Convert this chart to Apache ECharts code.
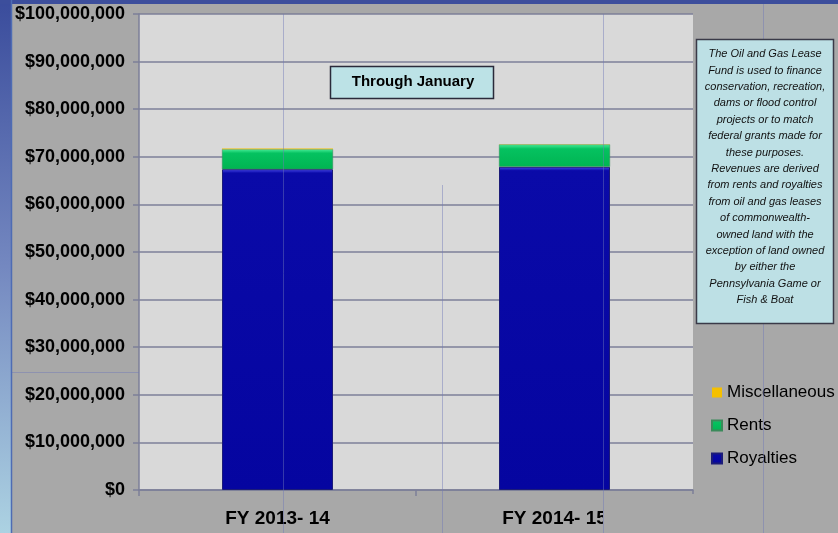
<!DOCTYPE html>
<html>
<head>
<meta charset="utf-8">
<script src="https://cdn.jsdelivr.net/npm/echarts@6/dist/echarts.min.js"></script>
<style>
  html, body { margin: 0; padding: 0; }
  #chart { width: 838px; height: 533px; }
</style>
</head>
<body>
<div id="chart"></div>
<script>
// Data
const categories = ['FY 2013- 14', 'FY 2014- 15'];
const royalties = [67400000, 67900000];
const rents = [4200000, 4700000];
const miscellaneous = [150000, 30000];
const legendOrder = ['Miscellaneous', 'Rents', 'Royalties'];

const noteText = [
  'The Oil and Gas Lease',
  'Fund is used to finance',
  'conservation, recreation,',
  'dams or flood control',
  'projects or to match',
  'federal grants made for',
  'these purposes.',
  'Revenues are derived',
  'from rents and royalties',
  'from oil and gas leases',
  'of commonwealth-',
  'owned land with the',
  'exception of land owned',
  'by either the',
  'Pennsylvania Game or',
  'Fish & Boat'
].join('\n');

const chart = echarts.init(document.getElementById('chart'));

const guide = 'rgba(110,120,185,0.45)';
const gridColor = '#7c7f98';

const option = {
  backgroundColor: '#a8a8a8',
  animation: false,
  grid: { left: 139, right: 145, top: 14, bottom: 43, show: true, backgroundColor: '#d9d9d9', borderWidth: 0 },
  legend: {
    data: legendOrder,
    orient: 'vertical',
    left: 711,
    top: 384,
    padding: 0,
    itemWidth: 10,
    itemHeight: 10,
    itemGap: 16,
    itemTextGap: 4,
    icon: 'rect',
    textStyle: { fontFamily: 'Liberation Sans, Arial', fontSize: 17, color: '#000', lineHeight: 17 }
  },
  xAxis: {
    type: 'category',
    data: categories,
    axisLine: { lineStyle: { color: gridColor, width: 1.5 } },
    axisTick: { show: true, length: 6, lineStyle: { color: gridColor, width: 1.5 } },
    axisLabel: { fontFamily: 'Liberation Sans, Arial', fontWeight: 'bold', fontSize: 19, color: '#000', margin: 19 },
    splitLine: { show: false }
  },
  yAxis: {
    type: 'value',
    min: 0,
    max: 100000000,
    interval: 10000000,
    axisLine: { show: true, lineStyle: { color: gridColor, width: 1.5 } },
    axisTick: { show: true, length: 6, lineStyle: { color: gridColor, width: 1.5 } },
    axisLabel: {
      fontFamily: 'Liberation Sans, Arial', fontWeight: 'bold', fontSize: 18, color: '#000', margin: 14,
      formatter: v => '$' + v.toLocaleString('en-US')
    },
    splitLine: { lineStyle: { color: gridColor, width: 1.5 } }
  },
  series: [
    {
      name: 'Royalties', type: 'bar', stack: 'total', data: royalties, barWidth: 111,
      itemStyle: {
        color: new echarts.graphic.LinearGradient(0, 0, 0, 1, [
          { offset: 0, color: '#4a4aee' },
          { offset: 0.012, color: '#0a0aa8' },
          { offset: 1, color: '#0505a0' }
        ]),
        borderColor: '#1c1c78', borderWidth: 1
      }
    },
    {
      name: 'Rents', type: 'bar', stack: 'total', data: rents,
      itemStyle: {
        color: new echarts.graphic.LinearGradient(0, 0, 0, 1, [
          { offset: 0, color: '#48ec98' },
          { offset: 0.2, color: '#05c260' },
          { offset: 1, color: '#00b452' }
        ]),
        borderColor: '#3a8a5a', borderWidth: 0.5
      }
    },
    {
      name: 'Miscellaneous', type: 'bar', stack: 'total', data: miscellaneous,
      itemStyle: { color: '#f5c000', borderWidth: 0 }
    }
  ],
  graphic: [
    // slide frame
    { type: 'rect', z: 100, shape: { x: 0, y: 0, width: 11, height: 533 },
      style: { fill: new echarts.graphic.LinearGradient(0, 0, 0, 1, [
        { offset: 0, color: '#3a4c9c' }, { offset: 0.5, color: '#7488c0' }, { offset: 1, color: '#acd2e2' }
      ]) } },
    { type: 'rect', z: 100, shape: { x: 0, y: 0, width: 838, height: 4 }, style: { fill: '#3c4e9c' } },
    { type: 'line', z: 100, shape: { x1: 11.5, y1: 0, x2: 11.5, y2: 533 }, style: { stroke: '#4e6cb4', lineWidth: 1.5 } },
    // cover clipping the second category label
    { type: 'rect', z: 90, shape: { x: 603, y: 494, width: 235, height: 39 }, style: { fill: '#a8a8a8' } },
    // guide lines
    { type: 'line', z: 95, shape: { x1: 283.5, y1: 14, x2: 283.5, y2: 533 }, style: { stroke: guide, lineWidth: 1 } },
    { type: 'line', z: 95, shape: { x1: 603.5, y1: 14, x2: 603.5, y2: 533 }, style: { stroke: guide, lineWidth: 1 } },
    { type: 'line', z: 95, shape: { x1: 442.5, y1: 185, x2: 442.5, y2: 533 }, style: { stroke: guide, lineWidth: 1 } },
    { type: 'line', z: 95, shape: { x1: 763.5, y1: 4, x2: 763.5, y2: 533 }, style: { stroke: guide, lineWidth: 1 } },
    { type: 'line', z: 95, shape: { x1: 11, y1: 372.5, x2: 139, y2: 372.5 }, style: { stroke: guide, lineWidth: 1 } },
    // Through January box
    { type: 'rect', z: 110, shape: { x: 330.5, y: 66.5, width: 163, height: 32 },
      style: { fill: '#bce2e6', stroke: '#2a2a3a', lineWidth: 1.5 } },
    { type: 'text', z: 111, style: {
      text: 'Through January', x: 413, y: 82, textAlign: 'center', textVerticalAlign: 'middle',
      font: 'bold 15px "Liberation Sans", Arial', fill: '#000' } },
    // note box
    { type: 'rect', z: 110, shape: { x: 696.5, y: 39.5, width: 137, height: 284 },
      style: { fill: '#bde0e5', stroke: '#3a3a48', lineWidth: 1.5 } },
    { type: 'text', z: 111, style: {
      text: noteText, x: 765, y: 46, textAlign: 'center', textVerticalAlign: 'top', lineHeight: 16.4,
      font: 'italic 11px "Liberation Sans", Arial', fill: '#111' } }
  ]
};

chart.setOption(option);
</script>
</body>
</html>
